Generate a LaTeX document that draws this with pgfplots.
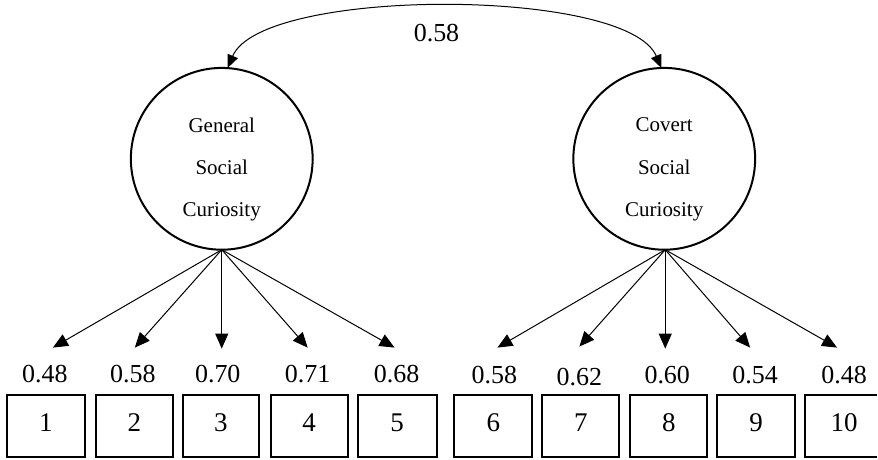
\documentclass[border=0pt]{standalone}
\usepackage{fontspec}
\setmainfont{Liberation Serif}
\usepackage{pgfplots}
\usepackage{pgfplotstable}
\pgfplotsset{compat=1.18}
\usetikzlibrary{arrows.meta}

% loadings: label position and value
\pgfplotstableread{
x y lab
45 86 0.48
133 86 0.58
218 86 0.70
308 86 0.71
397 86 0.68
495 85 0.58
580 83 0.62
668 85 0.60
756 85 0.54
845 85 0.48
}\loadings

% indicator boxes: centre and number
\pgfplotstableread{
x y lab
46 37 1
134.5 37 2
221 37 3
309.5 37 4
397.5 37 5
494 37 6
581.5 37 7
669.5 37 8
757 37 9
845 37 10
}\items

\begin{document}
\begin{tikzpicture}
\begin{axis}[
  width=439pt, height=230pt, scale only axis,
  xmin=0, xmax=878, ymin=0, ymax=460,
  hide axis, clip=false,
]
\path (rel axis cs:0,0) rectangle (rel axis cs:1,1);

% latent factors
\draw[line width=1pt] (axis cs:222,301) circle[radius=45.5pt];
\draw[line width=1pt] (axis cs:665,301) circle[radius=45.5pt];
\node[font=\fontsize{10.5}{12}\selectfont] at (axis cs:222,335) {General};
\node[font=\fontsize{10.5}{12}\selectfont] at (axis cs:222,292) {Social};
\node[font=\fontsize{10.5}{12}\selectfont] at (axis cs:222,248) {Curiosity};
\node[font=\fontsize{10.5}{12}\selectfont] at (axis cs:665,335) {Covert};
\node[font=\fontsize{10.5}{12}\selectfont] at (axis cs:665,292) {Social};
\node[font=\fontsize{10.5}{12}\selectfont] at (axis cs:665,248) {Curiosity};

% correlation
\draw[overlay, line width=0.5pt, {Triangle[length=6.5pt,width=5.5pt]}-{Triangle[length=6.5pt,width=5.5pt]}]
  (axis cs:228,392) .. controls (axis cs:262,473) and (axis cs:628,473) .. (axis cs:662,392);
\node[font=\fontsize{13}{15}\selectfont] at (axis cs:437,427) {0.58};

% factor loadings arrows
\pgfplotsset{arr/.style={line width=0.5pt, mark=none, color=black, -{Triangle[length=7.5pt,width=6.5pt]}}}
\addplot[arr] coordinates {(222,210) (53,112)};
\addplot[arr] coordinates {(222,210) (135,112)};
\addplot[arr] coordinates {(222,210) (222,111)};
\addplot[arr] coordinates {(222,210) (308,112)};
\addplot[arr] coordinates {(222,210) (395,112)};
\addplot[arr] coordinates {(666,210) (498,112)};
\addplot[arr] coordinates {(666,210) (580,113)};
\addplot[arr] coordinates {(666,210) (666,111)};
\addplot[arr] coordinates {(666,210) (751,112)};
\addplot[arr] coordinates {(666,210) (838,112)};

% boxes
\draw[line width=1pt] (axis cs:7,2) rectangle (axis cs:85,65);
\draw[line width=1pt] (axis cs:96,2) rectangle (axis cs:173,65);
\draw[line width=1pt] (axis cs:183,2) rectangle (axis cs:259,65);
\draw[line width=1pt] (axis cs:271,2) rectangle (axis cs:348,65);
\draw[line width=1pt] (axis cs:358,2) rectangle (axis cs:437,65);
\draw[line width=1pt] (axis cs:455,2) rectangle (axis cs:533,65);
\draw[line width=1pt] (axis cs:543,2) rectangle (axis cs:620,65);
\draw[line width=1pt] (axis cs:631,2) rectangle (axis cs:708,65);
\draw[line width=1pt] (axis cs:718,2) rectangle (axis cs:796,65);
\draw[line width=1pt] (axis cs:878,65) -- (axis cs:806,65) -- (axis cs:806,2) -- (axis cs:878,2);

\addplot[draw=none, mark=none, nodes near coords, point meta=explicit symbolic,
  every node near coord/.style={anchor=center, inner sep=0pt, font=\fontsize{13}{15}\selectfont}]
  table[meta=lab] {\loadings};
\addplot[draw=none, mark=none, nodes near coords, point meta=explicit symbolic,
  every node near coord/.style={anchor=center, inner sep=0pt, font=\fontsize{13.5}{15}\selectfont}]
  table[meta=lab] {\items};
\end{axis}
\end{tikzpicture}
\end{document}
